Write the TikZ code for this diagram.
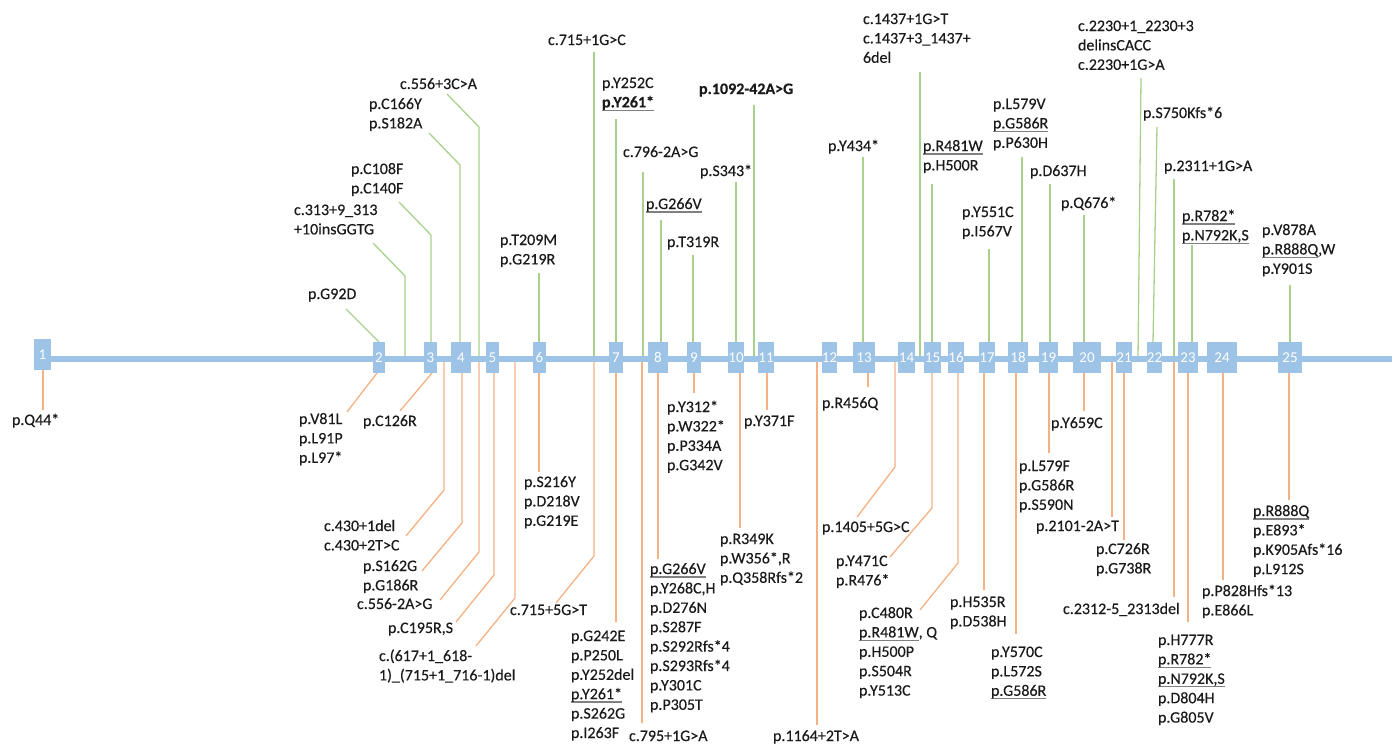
\documentclass[tikz,border=0pt]{standalone}
\usepackage{fontspec}
\setmainfont{Carlito}
\newfontfamily\lblfont{Carlito}[FakeBold=0.35]
\usetikzlibrary{backgrounds}
\definecolor{exblue}{HTML}{9DC3E6}
\definecolor{gcol}{HTML}{A9D18E}
\definecolor{ocol}{HTML}{F4B183}
\definecolor{txt}{HTML}{1A1A1A}
\definecolor{ulc}{HTML}{808080}
\newcommand\ulg[1]{\leavevmode\setbox0\hbox{#1}\rlap{\textcolor{ulc}{\rule[-3.5pt]{\wd0}{1.3pt}}}\box0}
\newcommand\mlines[1]{\vtop{\baselineskip=19.4pt\lineskiplimit=-20pt\lineskip=0pt\halign{##\hfil\cr#1\crcr}}}
\tikzset{
  exon/.style={fill=exblue, draw=none, inner sep=0pt, outer sep=0pt, minimum height=31pt, text=white, font=\fontsize{15}{15}\selectfont},
  lbl/.style={anchor=base west, inner sep=0pt, outer sep=0pt, text=txt, font=\lblfont\fontsize{16}{19.4}\selectfont},
  gconn/.style={draw=gcol, line width=1.3pt},
  oconn/.style={draw=ocol, line width=1.3pt},
  backbone/.style={draw=exblue, line width=6pt},
}
\begin{document}
\begin{tikzpicture}[x=1pt,y=-1pt]
\useasboundingbox (0,0) rectangle (1392,744);
\coordinate (bbL) at (42,358.5);
\coordinate (bbR) at (1392,358.5);
% exons
\node[exon, minimum width=17pt] (e1) at (42.5,354.5) {1};
\foreach \n/\cx/\w in {2/379/12,3/430.5/13,4/461/20,5/492.5/13,6/539.5/13,7/616/14,8/658/20,9/694/14,10/736/16,11/766/14,12/829.5/15,13/864/22,14/906.5/17,15/932.5/17,16/956/16,17/987/16,18/1018/20,19/1048.5/19,20/1087/28,21/1124/16,22/1154.5/15,23/1188/20,24/1222/30,25/1290/24}
  \node[exon, minimum width=\w pt] (e\n) at (\cx,357.5) {\n};
% top labels
\node[lbl] (lt1) at (400,89) {c.556+3C>A};
\node[lbl] (lt2) at (369,109) {\mlines{p.C166Y\cr p.S182A}};
\node[lbl] (lt3) at (351,174) {\mlines{p.C108F\cr p.C140F}};
\node[lbl] (lt4) at (294,215) {\mlines{c.313+9\_313\cr +10insGGTG}};
\node[lbl] (lt5) at (308,299) {p.G92D};
\node[lbl] (lt6) at (500,245) {\mlines{p.T209M\cr p.G219R}};
\node[lbl] (lt7) at (548,45) {c.715+1G>C};
\node[lbl] (lt8) at (602,88) {\mlines{p.Y252C\cr \ulg{\bfseries p.Y261*}}};
\node[lbl] (lt9) at (623,157) {c.796-2A>G};
\node[lbl] (lt10) at (646,209) {\ulg{p.G266V}};
\node[lbl] (lt11) at (667,247) {p.T319R};
\node[lbl] (lt12) at (700,176) {p.S343*};
\node[lbl] (lt13) at (699,94) {\bfseries p.1092-42A>G};
\node[lbl] (lt14) at (828,151) {p.Y434*};
\node[lbl] (lt15) at (863,24) {\mlines{c.1437+1G>T\cr c.1437+3\_1437+\cr 6del}};
\node[lbl] (lt16) at (923,151) {\mlines{\ulg{p.R481W}\cr p.H500R}};
\node[lbl] (lt17) at (962,217) {\mlines{p.Y551C\cr p.I567V}};
\node[lbl] (lt18) at (993,109) {\mlines{p.L579V\cr \ulg{p.G586R}\cr p.P630H}};
\node[lbl] (lt19) at (1030,176) {p.D637H};
\node[lbl] (lt20) at (1061,208) {p.Q676*};
\node[lbl] (lt21) at (1078,31) {\mlines{c.2230+1\_2230+3\cr delinsCACC\cr c.2230+1G>A}};
\node[lbl] (lt22) at (1143,118) {p.S750Kfs*6};
\node[lbl] (lt23) at (1164,171) {p.2311+1G>A};
\node[lbl] (lt24) at (1182,221) {\mlines{\ulg{p.R782*}\cr \ulg{p.N792K,S}}};
\node[lbl] (lt25) at (1262,235) {\mlines{p.V878A\cr \ulg{p.R888Q},W\cr p.Y901S}};
% bottom labels
\node[lbl] (lb1) at (12,425) {p.Q44*};
\node[lbl] (lb2) at (299,424) {\mlines{p.V81L\cr p.L91P\cr p.L97*}};
\node[lbl] (lb3) at (363,426) {p.C126R};
\node[lbl] (lb4) at (324,531) {\mlines{c.430+1del\cr c.430+2T>C}};
\node[lbl] (lb5) at (363,571) {\mlines{p.S162G\cr p.G186R}};
\node[lbl] (lb6) at (357,609) {c.556-2A>G};
\node[lbl] (lb7) at (388,633) {p.C195R,S};
\node[lbl] (lb8) at (379,661) {\mlines{c.(617+1\_618-\cr 1)\_(715+1\_716-1)del}};
\node[lbl] (lb9) at (524,487) {\mlines{p.S216Y\cr p.D218V\cr p.G219E}};
\node[lbl] (lb10) at (510,615) {c.715+5G>T};
\node[lbl] (lb11) at (571,641) {\mlines{p.G242E\cr p.P250L\cr p.Y252del\cr \ulg{p.Y261*}\cr p.S262G\cr p.I263F}};
\node[lbl] (lb12) at (629,741) {c.795+1G>A};
\node[lbl] (lb13) at (650,574) {\mlines{\ulg{p.G266V}\cr p.Y268C,H\cr p.D276N\cr p.S287F\cr p.S292Rfs*4\cr p.S293Rfs*4\cr p.Y301C\cr p.P305T}};
\node[lbl] (lb14) at (667,412) {\mlines{p.Y312*\cr p.W322*\cr p.P334A\cr p.G342V}};
\node[lbl] (lb15) at (720,544) {\mlines{p.R349K\cr p.W356*,R\cr p.Q358Rfs*2}};
\node[lbl] (lb16) at (744,426) {p.Y371F};
\node[lbl] (lb17) at (773,741) {p.1164+2T>A};
\node[lbl] (lb18) at (822,408) {p.R456Q};
\node[lbl] (lb19) at (822,532) {p.1405+5G>C};
\node[lbl] (lb20) at (836,566) {\mlines{p.Y471C\cr p.R476*}};
\node[lbl] (lb21) at (859,618) {\mlines{p.C480R\cr \ulg{p.R481W}, Q\cr p.H500P\cr p.S504R\cr p.Y513C}};
\node[lbl] (lb22) at (950,607) {\mlines{p.H535R\cr p.D538H}};
\node[lbl] (lb23) at (991,657) {\mlines{p.Y570C\cr p.L572S\cr \ulg{p.G586R}}};
\node[lbl] (lb24) at (1019,471) {\mlines{p.L579F\cr p.G586R\cr p.S590N}};
\node[lbl] (lb25) at (1051,428) {p.Y659C};
\node[lbl] (lb26) at (1036,531) {p.2101-2A>T};
\node[lbl] (lb27) at (1096,554) {\mlines{p.C726R\cr p.G738R}};
\node[lbl] (lb28) at (1063,614) {c.2312-5\_2313del};
\node[lbl] (lb29) at (1158,645) {\mlines{p.H777R\cr \ulg{p.R782*}\cr \ulg{p.N792K,S}\cr p.D804H\cr p.G805V}};
\node[lbl] (lb30) at (1202,596) {\mlines{p.P828Hfs*13\cr p.E866L}};
\node[lbl] (lb31) at (1253,516) {\mlines{\ulg{p.R888Q}\cr p.E893*\cr p.K905Afs*16\cr p.L912S}};
% connectors
\begin{scope}[on background layer]
% top (green)
\coordinate (g5) at (346,309);
\draw[gconn] (g5) -- (e2.north);
\coordinate (g4a) at (373,243); \coordinate (g4b) at (405,276);
\draw[gconn] (g4a) -- (g4b) -- (g4b |- bbL);
\coordinate (g3a) at (399,202); \coordinate (g3b) at (431,235);
\draw[gconn] (g3a) -- (g3b) -- (g3b |- e3.north);
\coordinate (g2a) at (429,133); \coordinate (g2b) at (460,165);
\draw[gconn] (g2a) -- (g2b) -- (g2b |- e4.north);
\coordinate (g1a) at (447,94); \coordinate (g1b) at (479,127);
\draw[gconn] (g1a) -- (g1b) -- (g1b |- bbL);
\coordinate (g6) at (539,273);   \draw[gconn] (g6) -- (g6 |- e6.north);
\coordinate (g7) at (594,52);    \draw[gconn] (g7) -- (g7 |- bbL);
\coordinate (g8) at (616,119);   \draw[gconn] (g8) -- (g8 |- e7.north);
\coordinate (g9) at (643,172);   \draw[gconn] (g9) -- (g9 |- bbL);
\coordinate (g10) at (661,220);  \draw[gconn] (g10) -- (g10 |- e8.north);
\coordinate (g11) at (693,255);  \draw[gconn] (g11) -- (g11 |- e9.north);
\coordinate (g12) at (736,182);  \draw[gconn] (g12) -- (g12 |- e10.north);
\coordinate (g13) at (754,105);  \draw[gconn] (g13) -- (g13 |- bbL);
\coordinate (g14) at (863,157);  \draw[gconn] (g14) -- (g14 |- e13.north);
\coordinate (g15) at (920,72);   \draw[gconn] (g15) -- (g15 |- bbL);
\coordinate (g16) at (932,184);  \draw[gconn] (g16) -- (g16 |- e15.north);
\coordinate (g17) at (989,249);  \draw[gconn] (g17) -- (g17 |- e17.north);
\coordinate (g18) at (1022,157); \draw[gconn] (g18) -- (g18 |- e18.north);
\coordinate (g19) at (1050,184); \draw[gconn] (g19) -- (g19 |- e19.north);
\coordinate (g20) at (1084,215); \draw[gconn] (g20) -- (g20 |- e20.north);
\coordinate (g21) at (1141,78);  \draw[gconn] (g21) -- (1138,358.5);
\coordinate (g22) at (1157,127); \draw[gconn] (g22) -- ([xshift=-1.5pt]e22.north);
\coordinate (g23) at (1174,179); \draw[gconn] (g23) -- (g23 |- bbL);
\coordinate (g24) at (1192,245); \draw[gconn] (g24) -- (g24 |- e23.north);
\coordinate (g25) at (1290,285); \draw[gconn] (g25) -- (g25 |- e25.north);
% bottom (orange)
\coordinate (o1) at (43,410);    \draw[oconn] (o1 |- e1.south) -- (o1);
\coordinate (o2) at (347,412);   \draw[oconn] ([xshift=-2pt]e2.south) -- (o2);
\coordinate (o3) at (400,411);   \draw[oconn] ([xshift=1.5pt]e3.south) -- (o3);
\coordinate (o4a) at (444,490); \coordinate (o4b) at (406,536);
\draw[oconn] (o4a |- bbL) -- (o4a) -- (o4b);
\coordinate (o5a) at (462,523); \coordinate (o5b) at (422,571);
\draw[oconn] (o5a |- e4.south) -- (o5a) -- (o5b);
\coordinate (o6a) at (479,552); \coordinate (o6b) at (440,600);
\draw[oconn] (o6a |- bbL) -- (o6a) -- (o6b);
\coordinate (o7a) at (494,575); \coordinate (o7b) at (456,622);
\draw[oconn] (o7a |- e5.south) -- (o7a) -- (o7b);
\coordinate (o8a) at (515,598); \coordinate (o8b) at (476,646);
\draw[oconn] (o8a |- bbL) -- (o8a) -- (o8b);
\coordinate (o9) at (539,472);   \draw[oconn] (o9 |- e6.south) -- (o9);
\coordinate (o10a) at (594,556); \coordinate (o10b) at (556,603);
\draw[oconn] (o10a |- bbL) -- (o10a) -- (o10b);
\coordinate (o11) at (616,622);  \draw[oconn] (o11 |- e7.south) -- (o11);
\coordinate (o12) at (642,723);  \draw[oconn] (o12 |- bbL) -- (o12);
\coordinate (o13) at (658,559);  \draw[oconn] (o13 |- e8.south) -- (o13);
\coordinate (o14) at (694,393);  \draw[oconn] (o14 |- e9.south) -- (o14);
\coordinate (o15) at (740,528);  \draw[oconn] (o15 |- e10.south) -- (o15);
\coordinate (o16) at (767,410);  \draw[oconn] (o16 |- e11.south) -- (o16);
\coordinate (o17) at (817,725);  \draw[oconn] (o17 |- bbL) -- (o17);
\coordinate (o18) at (868,387);  \draw[oconn] (o18 |- e13.south) -- (o18);
\coordinate (o19a) at (895,467); \coordinate (o19b) at (857,517);
\draw[oconn] (o19a |- bbL) -- (o19a) -- (o19b);
\coordinate (o20a) at (932,508); \coordinate (o20b) at (890,557);
\draw[oconn] (o20a |- e15.south) -- (o20a) -- (o20b);
\coordinate (o21a) at (958,563); \coordinate (o21b) at (920,610);
\draw[oconn] (o21a |- e16.south) -- (o21a) -- (o21b);
\coordinate (o22) at (984,590);  \draw[oconn] (o22 |- e17.south) -- (o22);
\coordinate (o23) at (1016,634); \draw[oconn] (o23 |- e18.south) -- (o23);
\coordinate (o24) at (1049,453); \draw[oconn] (o24 |- e19.south) -- (o24);
\coordinate (o25) at (1084,411); \draw[oconn] (o25 |- e20.south) -- (o25);
\coordinate (o26) at (1112,517); \draw[oconn] (o26 |- bbL) -- (o26);
\coordinate (o27) at (1124,540); \draw[oconn] (o27 |- e21.south) -- (o27);
\coordinate (o28) at (1174,597); \draw[oconn] (o28 |- bbL) -- (o28);
\coordinate (o29) at (1188,622); \draw[oconn] (o29 |- e23.south) -- (o29);
\coordinate (o30) at (1223,580); \draw[oconn] (o30 |- e24.south) -- (o30);
\coordinate (o31) at (1289,500); \draw[oconn] (o31 |- e25.south) -- (o31);
% backbone over connectors, under exons
\draw[backbone] (bbL) -- (bbR);
\end{scope}
\end{tikzpicture}
\end{document}
